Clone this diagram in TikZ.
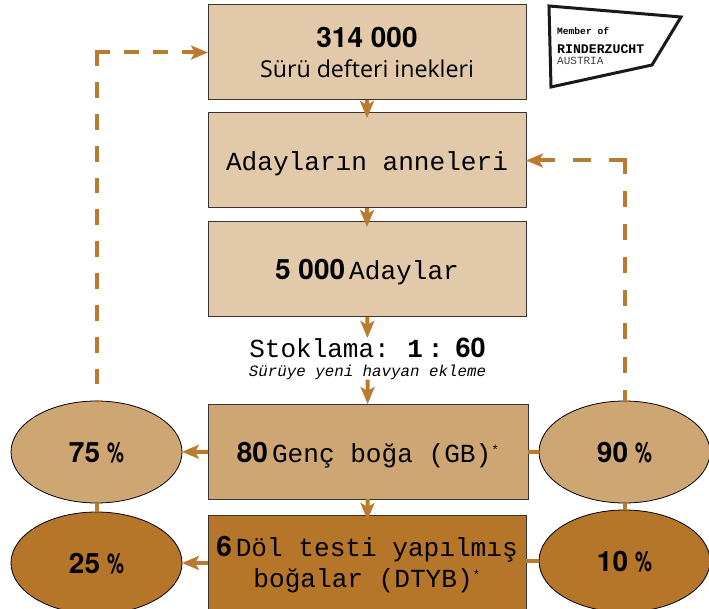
\documentclass[tikz,border=0pt]{standalone}
\usepackage{fontspec}
\usepackage{xcolor}
\usepackage{tikz}
\usetikzlibrary{arrows.meta,shapes.geometric}
\setmainfont{Liberation Mono}
\newfontfamily\numfont{TeX Gyre Heros}
\newfontfamily\capfont{Open Sans}
\definecolor{paleBrown}{HTML}{E1C9AA}
\definecolor{midBrown}{HTML}{CEA673}
\definecolor{darkBrown}{HTML}{B5762A}
\definecolor{lineBrown}{HTML}{BA7B30}
\definecolor{boxEdge}{HTML}{3A3530}
\newcommand{\num}[1]{{\numfont\bfseries\fontsize{28}{30}\selectfont #1}\hspace{4pt}}
\newcommand{\pct}[1]{\raisebox{-10.5pt}[0pt][0pt]{#1\hspace{7pt}\scalebox{0.68}[1]{\%}}}
\newcommand{\low}[1]{\raisebox{-10.5pt}[0pt][0pt]{#1}}
\newcommand{\starmark}{\raisebox{8pt}{\fontsize{13}{13}\selectfont *}}
\tikzset{
    tier/.style={draw=boxEdge, line width=1pt, minimum width=318pt, minimum height=95pt, inner sep=0pt, outer sep=0pt, align=center, font=\fontsize{26.1}{31}\selectfont},
    share/.style={ellipse, draw=black, line width=0.8pt, minimum width=171pt, minimum height=102pt, inner sep=0pt, outer sep=0pt, font=\numfont\bfseries\fontsize{28}{30}\selectfont},
    flow/.style={->, draw=lineBrown, line width=4pt, >={Stealth[length=17pt,width=14pt,inset=4pt]}},
    link/.style={draw=lineBrown, line width=4pt}
}
\begin{document}
\begin{tikzpicture}[x=1pt, y=-1pt]
            \useasboundingbox (0,0) rectangle (709,609);
            \clip (0,0) rectangle (709,609);

            % column of boxes
            \node[tier, fill=paleBrown] (herd) at (367,52.5) {{\numfont\bfseries\fontsize{28}{32}\selectfont 314 000}\\[-1pt]{\capfont\fontsize{23.2}{28}\selectfont Sürü defteri inekleri}};
            \node[tier, fill=paleBrown] (dams) at (367,160.5) {\low{Adayların anneleri}};
            \node[tier, fill=paleBrown] (cand) at (367,269.5) {\low{\num{5 000}Adaylar}};
            \node[inner sep=0pt] (stock) at (367.5,348) {\fontsize{26}{30}\selectfont Stoklama:\hspace{17.6pt}{\bfseries 1\hspace{5pt}:\hspace{12pt}}{\numfont\bfseries\fontsize{27}{30}\selectfont 60}};
            \node[inner sep=0pt, font=\itshape\fontsize{15.8}{18}\selectfont] (entry) at (367.5,372) {Sürüye yeni havyan ekleme};
            \node[tier, fill=midBrown, minimum width=320pt] (young) at (368,451.5) {\low{\num{80}Genç boğa (GB)\starmark}};
            \node[tier, fill=darkBrown, minimum height=100pt, anchor=north] (proven) at (367,515) {\num{6}Döl testi yapılmış\\boğalar (DTYB)\starmark};

            % share ellipses
            \node[share, fill=midBrown] (leftUp) at (96.5,452) {\pct{75}};
            \node[share, fill=darkBrown] (leftDown) at (96.5,563) {\pct{25}};
            \node[share, fill=midBrown] (rightUp) at (624.5,452) {\pct{90}};
            \node[share, fill=darkBrown] (rightDown) at (624.5,561) {\pct{10}};

            % corner points of the return lines
            \coordinate (cornerL) at (leftUp.north |- herd.west);
            \coordinate (cornerR) at (rightUp.north |- dams.east);

            \draw[flow, shorten >=-5pt] (herd) -- (dams);
            \draw[flow, shorten >=-5pt] (dams) -- (cand);
            \draw[flow] (cand) -- (stock);
            \draw[flow] (entry) -- (young);
            \draw[flow, shorten >=-5pt] (young) -- (proven);

            \draw[flow] (young) -- (leftUp);
            \draw[flow] (proven.west |- leftDown) -- (leftDown);
            \draw[link] (young) -- (rightUp);
            \draw[link] (proven.east |- rightDown) -- (rightDown);
            \draw[link] (leftUp) -- (leftDown);
            \draw[link] (rightUp) -- (rightDown);

            % return lines, dashed outward from their corners
            \draw[link, dash pattern=on 15.8pt off 16pt, shorten <=-2pt] (cornerL) -- (leftUp);
            \draw[flow, dash pattern=on 15pt off 14pt, shorten <=-2pt] (cornerL) -- (herd);
            \draw[link, dash pattern=on 16pt off 17pt, shorten <=-2pt] (cornerR) -- (rightUp);
            \draw[flow, dash pattern=on 18pt off 18pt, shorten <=-2pt] (cornerR) -- (dams);

            % badge top right
            \draw[line width=3pt, draw=black!90, line join=miter] (549,6) -- (681,17) -- (652,65) -- (551,87) -- cycle;
            \node[anchor=west, inner sep=0pt, font=\bfseries\fontsize{9.6}{11}\selectfont] (member) at (557,31) {Member of};
            \node[anchor=west, inner sep=0pt, font=\bfseries\fontsize{13.2}{15}\selectfont] (breed) at (557,49.5) {RINDERZUCHT};
            \node[anchor=west, inner sep=0pt, font=\fontsize{11}{12}\selectfont, text=black!75] (land) at (557,60.5) {AUSTRIA};
        \end{tikzpicture}
\end{document}
